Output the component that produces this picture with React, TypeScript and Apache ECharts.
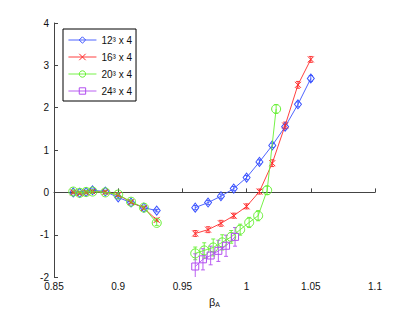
import React, { useEffect, useRef } from "react";
import * as echarts from "echarts";

// ---- data ----
const betaLeft = [0.865, 0.87, 0.875, 0.88, 0.89, 0.9, 0.91, 0.92, 0.93];
const l12Left = [0.0, -0.01, 0.01, 0.05, 0.02, -0.12, -0.24, -0.36, -0.43];
const l16Left = [0.0, -0.02, 0.0, 0.02, 0.01, -0.06, -0.23, -0.37, -0.65];
const l20Left = [0.02, -0.01, 0.01, 0.02, 0.0, -0.05, -0.22, -0.36, -0.72];
const e12Left = [0.03, 0.03, 0.03, 0.03, 0.03, 0.03, 0.03, 0.03, 0.03];
const e16Left = [0.03, 0.03, 0.03, 0.03, 0.03, 0.03, 0.03, 0.03, 0.04];
const e20Left = [0.04, 0.04, 0.04, 0.04, 0.04, 0.04, 0.04, 0.04, 0.06];

const beta12Right = [0.96, 0.97, 0.98, 0.99, 1.0, 1.01, 1.02, 1.03, 1.04, 1.05];
const l12Right = [-0.36, -0.24, -0.09, 0.09, 0.35, 0.72, 1.11, 1.55, 2.08, 2.69];
const e12Right = [0.05, 0.05, 0.05, 0.05, 0.05, 0.05, 0.05, 0.05, 0.06, 0.07];

const beta16Right = [0.96, 0.97, 0.98, 0.99, 1.0, 1.01, 1.02, 1.03, 1.04, 1.05];
const l16Right = [-0.97, -0.88, -0.73, -0.55, -0.33, 0.02, 0.69, 1.58, 2.54, 3.14];
const e16Right = [0.07, 0.07, 0.07, 0.06, 0.06, 0.06, 0.08, 0.08, 0.08, 0.07];

const beta20Right = [0.96, 0.967, 0.974, 0.981, 0.988, 0.995, 1.002, 1.009, 1.016, 1.023];
const l20Right = [-1.44, -1.37, -1.3, -1.18, -1.05, -0.88, -0.71, -0.55, 0.05, 1.97];
const e20Right = [0.15, 0.18, 0.2, 0.18, 0.15, 0.13, 0.12, 0.12, 0.1, 0.1];

const beta24Right = [0.96, 0.966, 0.972, 0.978, 0.984, 0.991];
const l24Right = [-1.75, -1.58, -1.49, -1.38, -1.26, -1.05];
const e24Right = [0.3, 0.25, 0.22, 0.25, 0.25, 0.22];

const seriesNames = ["12³ x 4", "16³ x 4", "20³ x 4", "24³ x 4"];
const xTicks = [0.85, 0.9, 0.95, 1, 1.05, 1.1];
const xTickLabels = ["0.85", "0.9", "0.95", "1", "1.05", "1.1"];
const yTicks = [-2, -1, 0, 1, 2, 3, 4];
const yTickLabels = ["-2", "-1", "0", "1", "2", "3", "4"];

const COLORS = ["#3a52ff", "#ff2a2a", "#66f033", "#b24ef0"];
const CROSS = "path://M0,0L10,10M10,0L0,10";
const SYMBOLS: any[] = ["diamond", CROSS, "circle", "rect"];
const SIZES: any[] = [[7, 9], 6, 9, 7];

const pairs = (xs: number[], ys: number[]) => xs.map((x, i) => [x, ys[i]]);
const errs = (xs: number[], ys: number[], es: number[]) =>
  xs.map((x, i) => [x, ys[i] - es[i], ys[i] + es[i]]);

function lineSeries(k: number, xs: number[], ys: number[]) {
  const c = COLORS[k];
  return {
    type: "line",
    name: seriesNames[k],
    data: pairs(xs, ys),
    symbol: SYMBOLS[k],
    symbolSize: SIZES[k],
    showAllSymbol: true,
    color: c,
    lineStyle: { color: c, width: 0.9 },
    itemStyle: { color: "rgba(255,255,255,0)", borderColor: c, borderWidth: 1 },
    z: 3 + k,
  };
}

function errSeries(k: number, xs: number[], ys: number[], es: number[]) {
  const c = COLORS[k];
  return {
    type: "custom",
    name: seriesNames[k] + " err",
    data: errs(xs, ys, es),
    z: 2 + k,
    clip: true,
    renderItem: (params: any, api: any) => {
      const lo = api.coord([api.value(0), api.value(1)]);
      const hi = api.coord([api.value(0), api.value(2)]);
      const cap = 2;
      const st = { stroke: c, lineWidth: 0.9 };
      return {
        type: "group",
        children: [
          { type: "line", shape: { x1: lo[0], y1: lo[1], x2: hi[0], y2: hi[1] }, style: st },
          { type: "line", shape: { x1: lo[0] - cap, y1: lo[1], x2: lo[0] + cap, y2: lo[1] }, style: st },
          { type: "line", shape: { x1: hi[0] - cap, y1: hi[1], x2: hi[0] + cap, y2: hi[1] }, style: st },
        ],
      };
    },
  };
}

const lookup = (ticks: number[], labels: string[]) => (v: number) => {
  const i = ticks.findIndex((t) => Math.abs(t - v) < 1e-6);
  return i >= 0 ? labels[i] : "";
};

export default function App() {
  const ref = useRef<HTMLDivElement>(null);
  useEffect(() => {
    if (!ref.current) return;
    const chart = echarts.init(ref.current, undefined, { renderer: "svg" });
    const font = "Liberation Sans";
    const axisCommon = {
      splitLine: { show: false },
      axisLine: { show: true, lineStyle: { color: "#444", width: 1 } },
      axisTick: { show: true, inside: true, length: 4, lineStyle: { color: "#444" } },
    };
    chart.setOption({
      animation: false,
      backgroundColor: "#fff",
      grid: { left: 54, right: 40, top: 23, bottom: 34, containLabel: false },
      xAxis: {
        type: "value",
        min: 0.85,
        max: 1.1,
        interval: 0.05,
        ...axisCommon,
        axisLabel: { color: "#111", fontSize: 10, fontFamily: font, margin: 4, formatter: lookup(xTicks, xTickLabels) },
        name: "{b|β}{s|A}",
        nameLocation: "middle",
        nameGap: 16,
        nameTextStyle: {
          rich: {
            b: { fontSize: 11, fontFamily: font, color: "#111" },
            s: { fontSize: 7, fontFamily: font, color: "#111", padding: [6, 0, 0, 0] },
          },
        },
      },
      yAxis: {
        type: "value",
        min: -2,
        max: 4,
        interval: 1,
        ...axisCommon,
        axisLabel: { color: "#111", fontSize: 10, fontFamily: font, margin: 5, formatter: lookup(yTicks, yTickLabels) },
      },
      legend: {
        data: seriesNames.map((n, k) => ({
          name: n,
          itemStyle: { color: "rgba(255,255,255,0)", borderColor: COLORS[k], borderWidth: 1 },
          lineStyle: { color: COLORS[k], width: 0.9 },
        })),
        orient: "vertical",
        left: 63,
        top: 29,
        backgroundColor: "#fff",
        borderColor: "#000",
        borderWidth: 1,
        padding: [6, 4, 5, 5],
        itemGap: 7,
        itemWidth: 28,
        itemHeight: 8,
        itemTextGap: 4,
        textStyle: { fontSize: 10, fontFamily: font, color: "#111" },
        selectedMode: false,
      },
      series: [
        errSeries(0, betaLeft, l12Left, e12Left),
        errSeries(1, betaLeft, l16Left, e16Left),
        errSeries(2, betaLeft, l20Left, e20Left),
        errSeries(0, beta12Right, l12Right, e12Right),
        errSeries(1, beta16Right, l16Right, e16Right),
        errSeries(2, beta20Right, l20Right, e20Right),
        errSeries(3, beta24Right, l24Right, e24Right),
        lineSeries(0, betaLeft, l12Left),
        lineSeries(1, betaLeft, l16Left),
        lineSeries(2, betaLeft, l20Left),
        lineSeries(3, [], []),
        lineSeries(0, beta12Right, l12Right),
        lineSeries(1, beta16Right, l16Right),
        lineSeries(2, beta20Right, l20Right),
        lineSeries(3, beta24Right, l24Right),
      ],
    });
    return () => chart.dispose();
  }, []);
  return (
    <div
      ref={ref}
      style={{ position: "fixed", left: 0, top: 0, width: 415, height: 313, background: "#fff" }}
    />
  );
}
